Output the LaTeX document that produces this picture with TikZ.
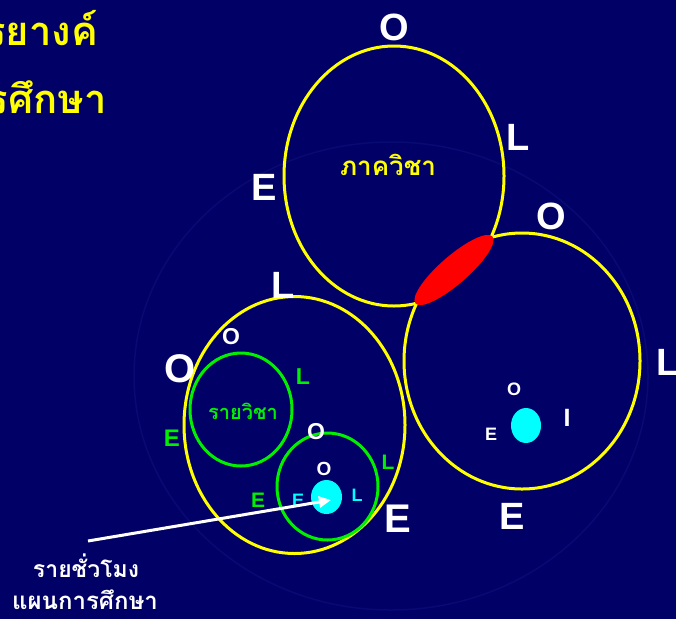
\documentclass[tikz,border=0pt]{standalone}
\usepackage{fontspec}
\setmainfont{Liberation Sans}
\newfontfamily\thaif[Script=Thai]{Loma}
\usetikzlibrary{shapes.geometric,arrows.meta}
\definecolor{bgblue}{RGB}{0,0,102}
\definecolor{faint}{RGB}{9,9,116}
\definecolor{ylw}{RGB}{255,255,0}
\definecolor{grn}{RGB}{0,240,0}
\definecolor{cyn}{RGB}{0,255,255}
\definecolor{rd}{RGB}{255,0,0}
\tikzset{
  ring/.style={draw, line width=3pt},
  lbl/.style={inner sep=0pt, font=\bfseries\fontsize{#1}{#1}\selectfont},
  lbl/.default=24,
  thl/.style={inner sep=0pt, font=\thaif\bfseries\fontsize{#1}{#1}\selectfont},
}
\begin{document}
\begin{tikzpicture}[x=1pt,y=-1pt]
\fill[bgblue] (0,0) rectangle (676,619);
\useasboundingbox (0,0) rectangle (676,619);
\clip (0,0) rectangle (676,619);
% faint background ellipse
\draw[faint, line width=1.5pt] (391,376) ellipse [x radius=257, y radius=234];
% title (cut at left edge)
\node[thl=40, text=ylw, anchor=east] (t1) at (98,28) {รยางค์};
\node[thl=40, text=ylw, anchor=east] (t2) at (107,97) {การศึกษา};
% main rings
\draw[ylw, ring] (394,176) ellipse [x radius=110, y radius=130];
\draw[ylw, ring] (522,361) ellipse [x radius=118, y radius=128];
\draw[ylw, ring] (294.5,425) ellipse [x radius=110.5, y radius=128.5];
\fill[rd, rotate around={41:(454,270)}] (454,270) ellipse [x radius=51, y radius=14];
\draw[grn, ring] (241,409.5) ellipse [x radius=51, y radius=56.5];
\draw[grn, ring] (327.5,486.5) ellipse [x radius=50.5, y radius=53.5];
\node[ellipse, fill=cyn, inner sep=0pt, minimum width=31pt, minimum height=34pt] (cy1) at (326.5,497) {};
\node[ellipse, fill=cyn, inner sep=0pt, minimum width=30pt, minimum height=35pt] (cy2) at (526,425.5) {};
% thai labels
\node[thl=26, text=ylw] (dept) at (388,165) {ภาควิชา};
\node[thl=20, text=grn] (subj) at (243,411) {รายวิชา};
\node[thl=23, text=white] (hrs) at (86,566) {รายชั่วโมง};
\node[thl=24, text=white] (plan) at (85,600) {แผนการศึกษา};
% white big letters
\node[lbl=38, text=white] (o1) at (394,27) {O};
\node[lbl=38, text=white] (l1) at (518,137) {L};
\node[lbl=38, text=white] (e1) at (264,187) {E};
\node[lbl=38, text=white] (o2) at (551,216) {O};
\node[lbl=38, text=white] (l2) at (668,362) {L};
\node[lbl=38, text=white] (e2) at (512,516) {E};
\node[lbl=38, text=white] (l3) at (283,285) {L};
\node[lbl=40, text=white] (o3) at (180,369) {O};
\node[lbl=40, text=white] (e3) at (398,519) {E};
% small letters
\node[lbl=23, text=white] (o4) at (231,337) {O};
\node[lbl=23, text=grn] (l4) at (303,377) {L};
\node[lbl=24, text=grn] (e4) at (172,438) {E};
\node[lbl=23, text=white] (o5) at (316,432) {O};
\node[lbl=21, text=grn] (l5) at (388,462) {L};
\node[lbl=19, text=white] (o6) at (324,469) {O};
\node[lbl=21, text=grn] (e5) at (258,500) {E};
\node[lbl=18, text=cyn] (e6) at (298,500) {E};
\node[lbl=18, text=cyn] (l6) at (357,495) {L};
\node[lbl=18, text=white] (o7) at (514,389) {O};
\node[lbl=18, text=white] (e7) at (491,434) {E};
\node[lbl=25, text=white] (i1) at (567,418) {I};
% arrow
\coordinate (as) at (88,541);
\coordinate (at) at (331,500);
\draw[white, line width=3pt, -{Triangle[length=12pt,width=11pt]}] (as) -- (at);
\end{tikzpicture}
\end{document}
